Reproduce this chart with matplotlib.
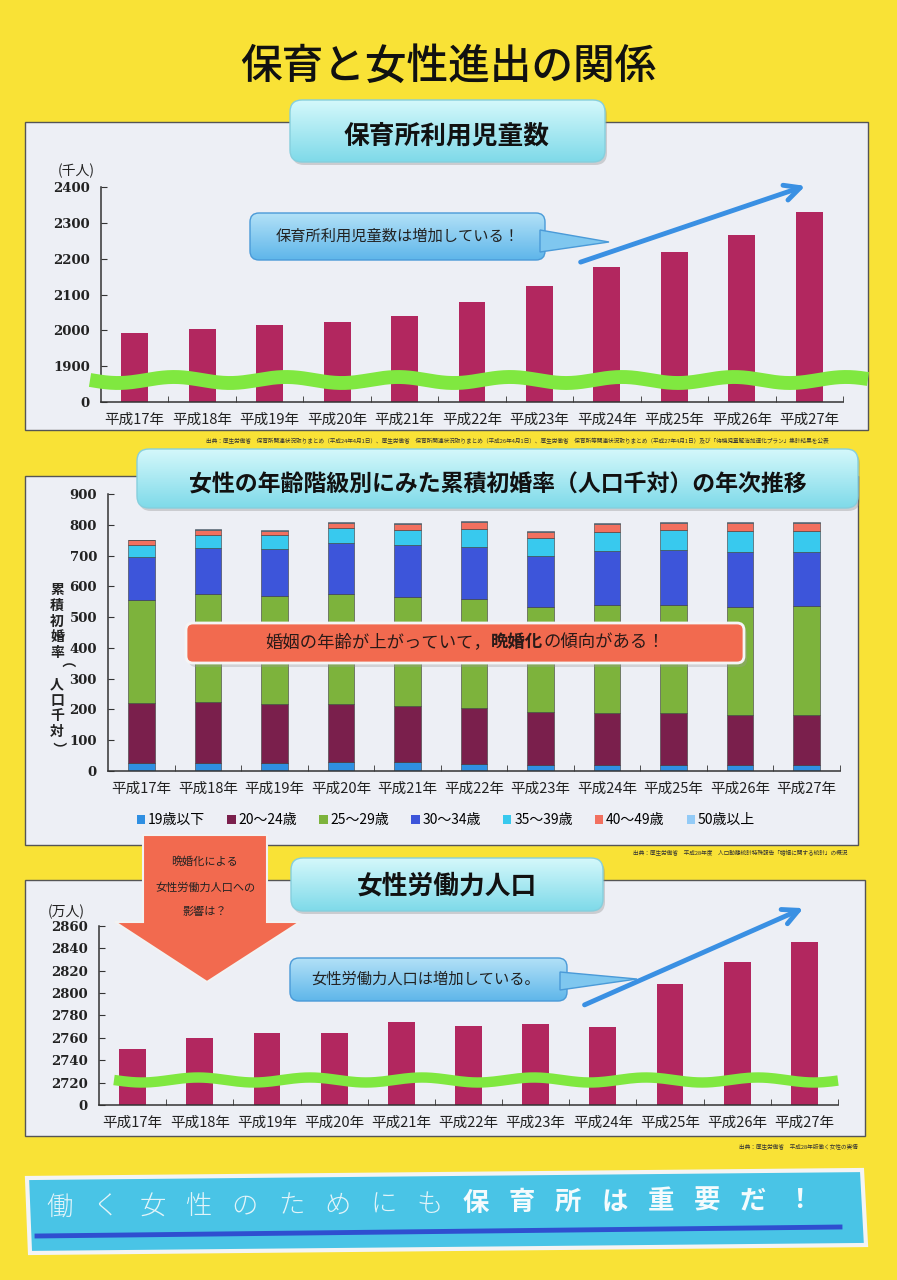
import numpy as np
import matplotlib
matplotlib.use("Agg")
import matplotlib.pyplot as plt
from matplotlib.patches import FancyBboxPatch, Polygon, Rectangle, Patch
from matplotlib.colors import LinearSegmentedColormap

plt.rcParams['font.family'] = ['Noto Sans CJK JP', 'DejaVu Sans']

years = ["平成17年", "平成18年", "平成19年", "平成20年", "平成21年", "平成22年",
         "平成23年", "平成24年", "平成25年", "平成26年", "平成27年"]

# 保育所利用児童数 (千人)
nursery_children = [1993, 2004, 2015, 2022, 2041, 2080, 2123, 2177, 2219, 2266, 2331]

# 累積初婚率 (人口千対), one list per age group
age_groups = ["19歳以下", "20～24歳", "25～29歳", "30～34歳", "35～39歳", "40～49歳", "50歳以上"]
rate_u19 = [27, 27, 27, 29, 29, 22, 20, 20, 20, 20, 20]
rate_20_24 = [193, 197, 191, 190, 182, 184, 171, 169, 167, 161, 161]
rate_25_29 = [337, 350, 349, 356, 354, 352, 341, 351, 353, 351, 355]
rate_30_34 = [139, 149, 153, 166, 168, 170, 167, 175, 179, 180, 176]
rate_35_39 = [39, 44, 47, 50, 51, 59, 58, 63, 65, 68, 68]
rate_40_49 = [15, 15, 14, 16, 17, 22, 20, 24, 23, 25, 27]
rate_50_up = [2, 3, 3, 3, 4, 3, 3, 3, 3, 3, 3]
age_colors = ["#2F8FE2", "#7A1F4C", "#7DB33C", "#3D55DA", "#38C9EE", "#F2705F", "#93CBF7"]

# 女性労働力人口 (万人)
female_labor = [2750, 2760, 2764, 2764, 2774, 2771, 2772, 2770, 2808, 2828, 2846]

W, H = 897, 1280
YELLOW = "#F9E236"
PANEL = "#EDEFF5"
BAR = "#B2275F"
NUM_FONT = dict(family="DejaVu Serif", weight="bold", size=9.5)


def fig_rect(x0, y0, x1, y1):
    """pixel box (top-left origin) -> figure fraction rect"""
    return [x0 / W, 1 - y1 / H, (x1 - x0) / W, (y1 - y0) / H]


def grad_box(ax, x0, y0, x1, y1, c_top, c_bot, ec, r=10, lw=1.0, z=2, shadow=True):
    if shadow:
        ax.add_patch(FancyBboxPatch((x0 + 2, y0 + 3), x1 - x0, y1 - y0,
                                    boxstyle=f"round,pad=0,rounding_size={r}",
                                    fc="#8C8C8C", ec="none", alpha=0.35, zorder=z - 0.1))
    box = FancyBboxPatch((x0, y0), x1 - x0, y1 - y0,
                         boxstyle=f"round,pad=0,rounding_size={r}",
                         fc="none", ec=ec, lw=lw, zorder=z + 0.1)
    ax.add_patch(box)
    grad = np.linspace(0, 1, 64)[:, None]
    cmap = LinearSegmentedColormap.from_list("g", [c_top, c_bot])
    im = ax.imshow(grad, cmap=cmap, extent=(x0, x1, y1, y0), aspect="auto",
                   zorder=z, interpolation="bilinear")
    im.set_clip_path(box)


def wave(ax, x0, x1, y0, amp, period, lw):
    xs = np.linspace(x0, x1, 300)
    ax.plot(xs, y0 + amp * np.sin(2 * np.pi * (xs - x0) / period), color="#80E840",
            lw=lw, solid_capstyle="butt", zorder=6)


def style_chart(ax):
    ax.set_facecolor("none")
    for s in ["top", "right"]:
        ax.spines[s].set_visible(False)
    for s in ["left", "bottom"]:
        ax.spines[s].set_color("#333333")
        ax.spines[s].set_linewidth(1.1)
    x = np.arange(len(years))
    ax.set_xlim(-0.5, len(years) - 0.5)
    ax.set_xticks(x)
    ax.set_xticklabels(years, fontsize=10.5, color="#222222")
    ax.set_xticks(np.arange(0.5, len(years), 1.0), minor=True)
    ax.tick_params(axis="x", which="major", length=0, pad=8)
    ax.tick_params(axis="x", which="minor", direction="in", length=4, color="#333333")
    ax.tick_params(axis="y", direction="in", length=4, color="#333333", pad=8)
    for lab in ax.get_yticklabels():
        lab.set_fontfamily(NUM_FONT["family"])
        lab.set_fontweight(NUM_FONT["weight"])
        lab.set_fontsize(NUM_FONT["size"])
        lab.set_color("#222222")


fig = plt.figure(figsize=(W / 100, H / 100), dpi=100)
fig.patch.set_facecolor(YELLOW)

bg = fig.add_axes([0, 0, 1, 1], zorder=0, label="bg")
top = fig.add_axes([0, 0, 1, 1], zorder=5, label="top")
for a in (bg, top):
    a.set_facecolor("none")
    a.axis("off")

# ---- panels ----
bg.add_patch(Rectangle((25, 122), 843, 308, fc=PANEL, ec="#555555", lw=1.0))
bg.add_patch(Rectangle((25, 476), 833, 369, fc=PANEL, ec="#555555", lw=1.0))
bg.add_patch(Rectangle((25, 880), 840, 256, fc=PANEL, ec="#555555", lw=1.0))

top.text(448, 66, "保育と女性進出の関係", fontsize=30, ha="center", va="center",
         color="#111111", weight="medium")

# ---- chart 1 ----
grad_box(top, 290, 100, 605, 162, "#D4F8FB", "#7FDAE9", "#86CFDD", r=12)
top.text(447, 136, "保育所利用児童数", fontsize=18.5, weight="bold", ha="center",
         va="center", color="#111111", zorder=4)

ax1 = fig.add_axes(fig_rect(101, 187, 843, 402), zorder=2)
ax1.bar(np.arange(len(years)), nursery_children, width=0.4, color=BAR)
ax1.set_ylim(1800, 2400)
ax1.set_yticks(np.arange(1800, 2401, 100))
ax1.set_yticklabels(["0"] + [str(v) for v in range(1900, 2401, 100)])
style_chart(ax1)
top.text(76, 171, "(千人)", fontsize=10, ha="center", va="center", color="#222222")

wave(top, 90, 868, 380, 3.0, 112, 10)

top.add_patch(Polygon([(540, 230), (540, 252), (609, 242)], closed=True,
                      fc="#7FC7EF", ec="#4A9AD8", lw=1.0, zorder=3))
grad_box(top, 250, 213, 545, 260, "#B2E1F7", "#5FB6EA", "#4A9AD8", r=9, shadow=False)
top.text(398, 236, "保育所利用児童数は増加している！", fontsize=11, ha="center",
         va="center", color="#222222", zorder=4)
top.annotate("", xy=(808, 185), xytext=(578, 263),
             arrowprops=dict(arrowstyle="->", lw=3.5, color="#3A90E3", mutation_scale=28))

top.text(517, 441, "出典：厚生労働省　保育所関連状況取りまとめ（平成24年4月1日）、厚生労働省　"
         "保育所関連状況取りまとめ（平成26年4月1日）、厚生労働省　保育所等関連状況取りまとめ"
         "（平成27年4月1日）及び「待機児童解消加速化プラン」集計結果を公表",
         fontsize=4.1, ha="center", va="center", color="#333333")

# ---- chart 2 ----
grad_box(top, 137, 449, 858, 508, "#D4F8FB", "#7FDAE9", "#86CFDD", r=12)
top.text(498, 485, "女性の年齢階級別にみた累積初婚率（人口千対）の年次推移", fontsize=16.5,
         weight="bold", ha="center", va="center", color="#111111", zorder=4)

ax2 = fig.add_axes(fig_rect(108, 494, 840, 771), zorder=2)
series = [rate_u19, rate_20_24, rate_25_29, rate_30_34, rate_35_39, rate_40_49, rate_50_up]
bottom = np.zeros(len(years))
for vals, col in zip(series, age_colors):
    ax2.bar(np.arange(len(years)), vals, width=0.4, bottom=bottom, color=col,
            edgecolor="#3A3A3A", linewidth=0.4)
    bottom += np.array(vals)
ax2.set_ylim(0, 900)
ax2.set_yticks(np.arange(0, 901, 100))
style_chart(ax2)

ylabel = "累積初婚率（人口千対）"
for i, ch in enumerate(ylabel):
    rot = -90 if ch in "（）" else 0
    top.text(57, 590 + i * 15.8, ch, fontsize=10, weight="bold", ha="center",
             va="center", rotation=rot, color="#222222")

top.add_patch(FancyBboxPatch((189, 627), 558, 40, boxstyle="round,pad=0,rounding_size=7",
                             fc="#9A9A9A", ec="none", alpha=0.35, zorder=3))
top.add_patch(FancyBboxPatch((186, 623), 558, 40, boxstyle="round,pad=0,rounding_size=7",
                             fc="#F26A4F", ec="#F5F5F5", lw=2, zorder=3.1))
fig.canvas.draw()
renderer = fig.canvas.get_renderer()
xpos = 265
for part, wt in [("婚姻の年齢が上がっていて，", "normal"), ("晩婚化", "bold"),
                 ("の傾向がある！", "normal")]:
    t = top.text(xpos, 642, part, fontsize=12.5, weight=wt, ha="left", va="center",
                 color="#2A1A18", zorder=4)
    xpos += t.get_window_extent(renderer).width

handles = [Patch(facecolor=c, edgecolor="none") for c in age_colors]
fig.legend(handles, age_groups, loc="center", bbox_to_anchor=(446 / W, 1 - 820 / H),
           ncol=7, frameon=False, fontsize=10, handlelength=0.6, handleheight=0.6,
           handletextpad=0.2, columnspacing=1.6)

top.text(740, 853, "出典：厚生労働省　平成28年度　人口動態統計特殊報告「婚姻に関する統計」の概況",
         fontsize=4.1, ha="center", va="center", color="#333333")

# ---- chart 3 ----
grad_box(top, 291, 858, 603, 911, "#D4F8FB", "#7FDAE9", "#86CFDD", r=12)
top.text(447, 886, "女性労働力人口", fontsize=18.5, weight="bold", ha="center",
         va="center", color="#111111", zorder=4)

ax3 = fig.add_axes(fig_rect(99, 926, 838, 1105), zorder=2)
ax3.bar(np.arange(len(years)), female_labor, width=0.4, color=BAR)
ax3.set_ylim(2700, 2860)
ax3.set_yticks(np.arange(2700, 2861, 20))
ax3.set_yticklabels(["0"] + [str(v) for v in range(2720, 2861, 20)])
style_chart(ax3)
top.text(66, 912, "(万人)", fontsize=10, ha="center", va="center", color="#222222")

wave(top, 114, 838, 1080, 2.5, 112, 7.5)

top.add_patch(Polygon([(560, 972), (560, 990), (637, 979)], closed=True,
                      fc="#7FC7EF", ec="#4A9AD8", lw=1.0, zorder=3))
grad_box(top, 290, 958, 567, 1001, "#B2E1F7", "#5FB6EA", "#4A9AD8", r=9, shadow=False)
top.text(426, 979, "女性労働力人口は増加している。", fontsize=11, ha="center",
         va="center", color="#222222", zorder=4)
top.annotate("", xy=(806, 907), xytext=(582, 1006),
             arrowprops=dict(arrowstyle="->", lw=3.5, color="#3A90E3", mutation_scale=28))

top.text(798, 1146, "出典：厚生労働省　平成28年版働く女性の実情", fontsize=4.1,
         ha="center", va="center", color="#333333")

# ---- down arrow ----
top.add_patch(Polygon([(143, 835), (267, 835), (267, 922), (300, 922), (207, 982),
                       (115, 922), (143, 922)], closed=True, fc="#F26A4F",
                      ec="#F2F2F2", lw=1.5, zorder=7))
for yy, line in [(862, "晩婚化による"), (888, "女性労働力人口への"), (912, "影響は？")]:
    top.text(205, yy, line, fontsize=8, ha="center", va="center", color="#222222", zorder=8)

# ---- bottom banner ----
top.add_patch(Polygon([(27, 1178), (862, 1170), (866, 1245), (30, 1253)], closed=True,
                      fc="#49C4E6", ec="#F4F4F4", lw=3, zorder=2))
top.plot([37, 840], [1236, 1227], color="#2F4FD0", lw=3.5, zorder=3)
banner = "働く女性のためにも保育所は重要だ！"
for i, ch in enumerate(banner):
    bold = i >= 9
    top.text(60 + i * 46.2, 1207 - i * 0.4, ch, fontsize=19,
             weight="bold" if bold else "light", ha="center", va="center",
             color="#F4FBFD" if bold else "#E2F4F9", zorder=4)

for a in (bg, top):
    a.set_xlim(0, W)
    a.set_ylim(H, 0)

fig.savefig("out.png", dpi=100, facecolor=YELLOW)
